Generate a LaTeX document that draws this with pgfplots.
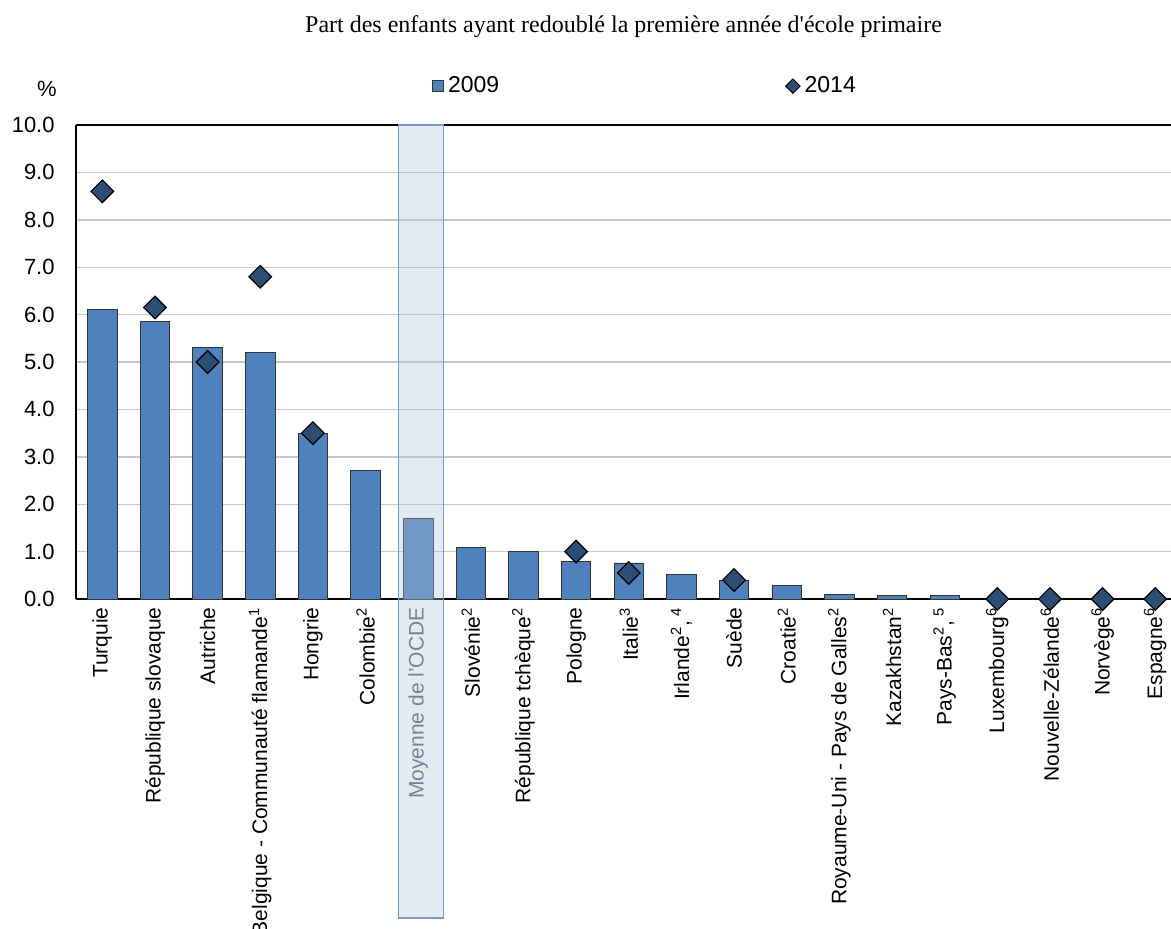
\documentclass[border=0pt]{standalone}
\usepackage{pgfplots}
\pgfplotsset{compat=1.18}
\usepackage{fontspec}
\setmainfont{Liberation Sans}
\newfontfamily\timesfont{Liberation Serif}
\definecolor{barcol}{RGB}{79,129,189}
\definecolor{diacol}{RGB}{44,77,117}
\definecolor{hlfill}{RGB}{178,195,220}
\definecolor{hldraw}{RGB}{120,155,205}
\definecolor{gridc}{RGB}{200,200,200}
\begin{document}
\begin{tikzpicture}
\begin{axis}[
  name=ax,
  scale only axis,
  width=547.5pt, height=237pt,
  xmin=-0.5, xmax=20.3,
  ymin=0, ymax=10,
  ytick={0,1,...,10},
  /pgf/number format/fixed, /pgf/number format/fixed zerofill, /pgf/number format/precision=1,
  /pgf/number format/assume math mode=true,
  xtick={0,...,20},
  xticklabels={Turquie, République slovaque, Autriche, Belgique - Communauté flamande\textsuperscript{1}, Hongrie, Colombie\textsuperscript{2}, {\color[RGB]{90,95,105}Moyenne de l'OCDE}, Slovénie\textsuperscript{2}, République tchèque\textsuperscript{2}, Pologne, Italie\textsuperscript{3}, {Irlande\textsuperscript{2},\textsuperscript{ 4}}, Suède, Croatie\textsuperscript{2}, Royaume-Uni - Pays de Galles\textsuperscript{2}, Kazakhstan\textsuperscript{2}, {Pays-Bas\textsuperscript{2},\textsuperscript{ 5}}, Luxembourg\textsuperscript{6}, Nouvelle-Zélande\textsuperscript{6}, Norvège\textsuperscript{6}, Espagne\textsuperscript{6}},
  xticklabel style={font=\fontsize{10.5}{12}\selectfont, rotate=90, anchor=east, inner sep=0pt, xshift=-4pt},
  yticklabel style={font=\fontsize{11}{13}\selectfont, anchor=east, inner sep=0pt, xshift=-10.5pt},
  major tick length=0pt,
  ymajorgrids,
  grid style={gridc, line width=0.7pt},
  axis x line*=bottom, axis y line*=left,
  axis line style={black, line width=0.9pt},
  clip=false,
  legend columns=2,
  legend style={draw=none, fill=none, at={(axis description cs:0.325,1.082)}, anchor=west, inner sep=0pt,
    font=\fontsize{11.5}{13}\selectfont,
    /tikz/every even column/.append style={column sep=141pt}},
]
\draw[black, line width=0.9pt] (rel axis cs:0,1) -- (rel axis cs:1,1);
\addplot[ybar, bar width=0.56, fill=barcol, draw=black!80, line width=0.4pt,
  legend image code/.code={\draw[fill=barcol, draw=black!80, line width=0.4pt] (0pt,-2.75pt) rectangle (5.5pt,2.75pt);}]
  coordinates {(0,6.1) (1,5.86) (2,5.3) (3,5.2) (4,3.5) (5,2.72) (6,1.71) (7,1.08) (8,1.01) (9,0.8) (10,0.76) (11,0.51) (12,0.4) (13,0.28) (14,0.1) (15,0.07) (16,0.07)};
\addlegendentry{2009}
\draw[fill=hlfill, fill opacity=0.35, draw=hldraw, line width=0.6pt] (axis cs:5.62,10) rectangle (axis cs:6.48,-6.73);
\addplot[only marks, mark=square*, mark size=4pt, mark options={rotate=45, fill=diacol, draw=black, line width=0.6pt},
  legend image code/.code={\draw[fill=diacol, draw=black, line width=0.5pt] (0pt,0pt) -- (3.6pt,3.6pt) -- (7.2pt,0pt) -- (3.6pt,-3.6pt) -- cycle;}]
  coordinates {(0,8.6) (1,6.15) (2,5.0) (3,6.8) (4,3.5) (9,1.0) (10,0.55) (12,0.4) (17,0) (18,0) (19,0) (20,0)};
\addlegendentry{2014}
\node[font=\timesfont\fontsize{12}{14}\selectfont, anchor=center] at ([yshift=49pt]rel axis cs:0.5,1) {Part des enfants ayant redoublé la première année d'école primaire};
\node[font=\fontsize{11}{13}\selectfont, anchor=center] at ([xshift=-14.5pt,yshift=18pt]rel axis cs:0,1) {\%};
\end{axis}
\pgfresetboundingbox
\path (ax.south west) +(-38pt,-164.5pt) (ax.north east) +(0pt,62.5pt);
\end{tikzpicture}
\end{document}
